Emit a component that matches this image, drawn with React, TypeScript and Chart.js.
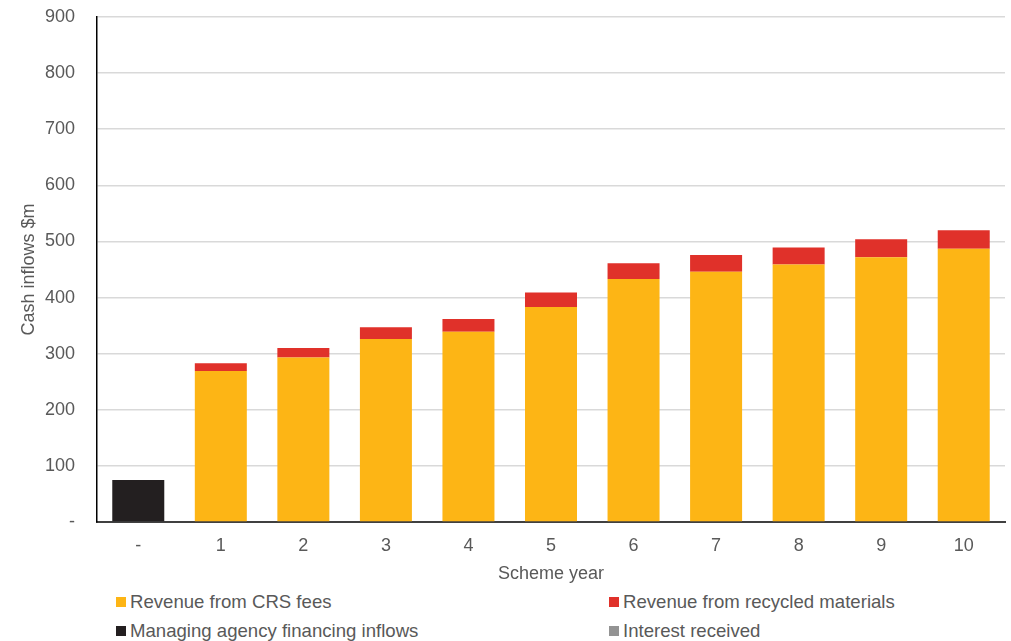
import React, { useEffect, useRef } from "react";
import { Chart, registerables } from "chart.js";

Chart.register(...registerables);

// Scheme years ("-" is the pre-launch period)
const years = ["-", "1", "2", "3", "4", "5", "6", "7", "8", "9", "10"];

// Cash inflows, $m
const crsFees = [0, 269, 293, 326, 339, 383, 433, 446, 459, 472, 487];
const recycledMaterials = [0, 14, 17, 21, 23, 26, 28, 30, 30, 32, 33];
const agencyFinancing = [75, 0, 0, 0, 0, 0, 0, 0, 0, 0, 0];
const interestReceived = [0, 0, 0, 0, 0, 0, 0, 0, 0, 0, 0];

const yTicks = [0, 100, 200, 300, 400, 500, 600, 700, 800, 900];

const FONT = "'Liberation Sans', Arial, sans-serif";
const TEXT = "#595959";

const series = [
  { label: "Revenue from CRS fees", data: crsFees, color: "#FDB515" },
  { label: "Revenue from recycled materials", data: recycledMaterials, color: "#E0312A" },
  { label: "Managing agency financing inflows", data: agencyFinancing, color: "#231F20" },
  { label: "Interest received", data: interestReceived, color: "#939393" },
];

export default function App() {
  const canvasRef = useRef<HTMLCanvasElement | null>(null);

  useEffect(() => {
    if (!canvasRef.current) return;
    const chart = new Chart(canvasRef.current, {
      type: "bar",
      data: {
        labels: years,
        datasets: series.map((s) => ({
          label: s.label,
          data: s.data,
          backgroundColor: s.color,
          borderWidth: 0,
          barPercentage: 0.63,
          categoryPercentage: 1,
        })),
      },
      options: {
        responsive: false,
        animation: false,
        devicePixelRatio: 1,
        layout: { padding: { top: 17, right: 6, bottom: 0, left: 0 } },
        plugins: {
          legend: { display: false },
          tooltip: { enabled: false },
        },
        scales: {
          x: {
            stacked: true,
            offset: true,
            grid: { display: false, drawTicks: false },
            border: { display: true, color: "#404040", width: 2 },
            ticks: {
              color: TEXT,
              font: { family: FONT, size: 18 },
              padding: 13,
            },
            title: {
              display: true,
              text: "Scheme year",
              color: TEXT,
              font: { family: FONT, size: 18 },
              padding: { top: 0, bottom: 5 },
            },
            afterFit: (scale: any) => {
              scale.height = 68;
            },
          },
          y: {
            stacked: true,
            min: 0,
            max: 900,
            afterBuildTicks: (scale: any) => {
              scale.ticks = yTicks.map((v) => ({ value: v }));
            },
            grid: { color: "#d9d9d9", lineWidth: 1.5, drawTicks: false },
            border: { display: true, color: "#000000", width: 1.5 },
            ticks: {
              color: TEXT,
              font: { family: FONT, size: 18 },
              padding: 22,
              callback: (v: any) => (Number(v) === 0 ? "-" : String(v)),
            },
            title: {
              display: true,
              text: "Cash inflows $m",
              color: TEXT,
              font: { family: FONT, size: 18 },
              padding: { top: 18, bottom: 0 },
            },
            afterFit: (scale: any) => {
              // fixed axis width; tick padding should not shrink the plot vertically
              scale.width = 97;
              scale.paddingTop = 0;
              scale.paddingBottom = 0;
            },
          },
        },
      },
    });
    return () => chart.destroy();
  }, []);

  const legendPos = [
    { left: 116, top: 602 },
    { left: 609, top: 602 },
    { left: 116, top: 631 },
    { left: 609, top: 631 },
  ];

  return (
    <div
      style={{
        position: "fixed",
        left: 0,
        top: 0,
        width: 1011,
        height: 641,
        background: "#ffffff",
        fontFamily: FONT,
        overflow: "hidden",
      }}
    >
      <canvas
        ref={canvasRef}
        width={1011}
        height={590}
        style={{ position: "absolute", left: 0, top: 0, width: 1011, height: 590 }}
      />
      {series.map((s, i) => (
        <div
          key={s.label}
          style={{
            position: "absolute",
            left: legendPos[i].left,
            top: legendPos[i].top - 11,
            height: 22,
            display: "flex",
            alignItems: "center",
            fontSize: 18.6,
            color: TEXT,
            whiteSpace: "nowrap",
          }}
        >
          <span
            style={{
              display: "inline-block",
              width: 10,
              height: 10,
              background: s.color,
              marginRight: 4,
            }}
          />
          {s.label}
        </div>
      ))}
    </div>
  );
}
